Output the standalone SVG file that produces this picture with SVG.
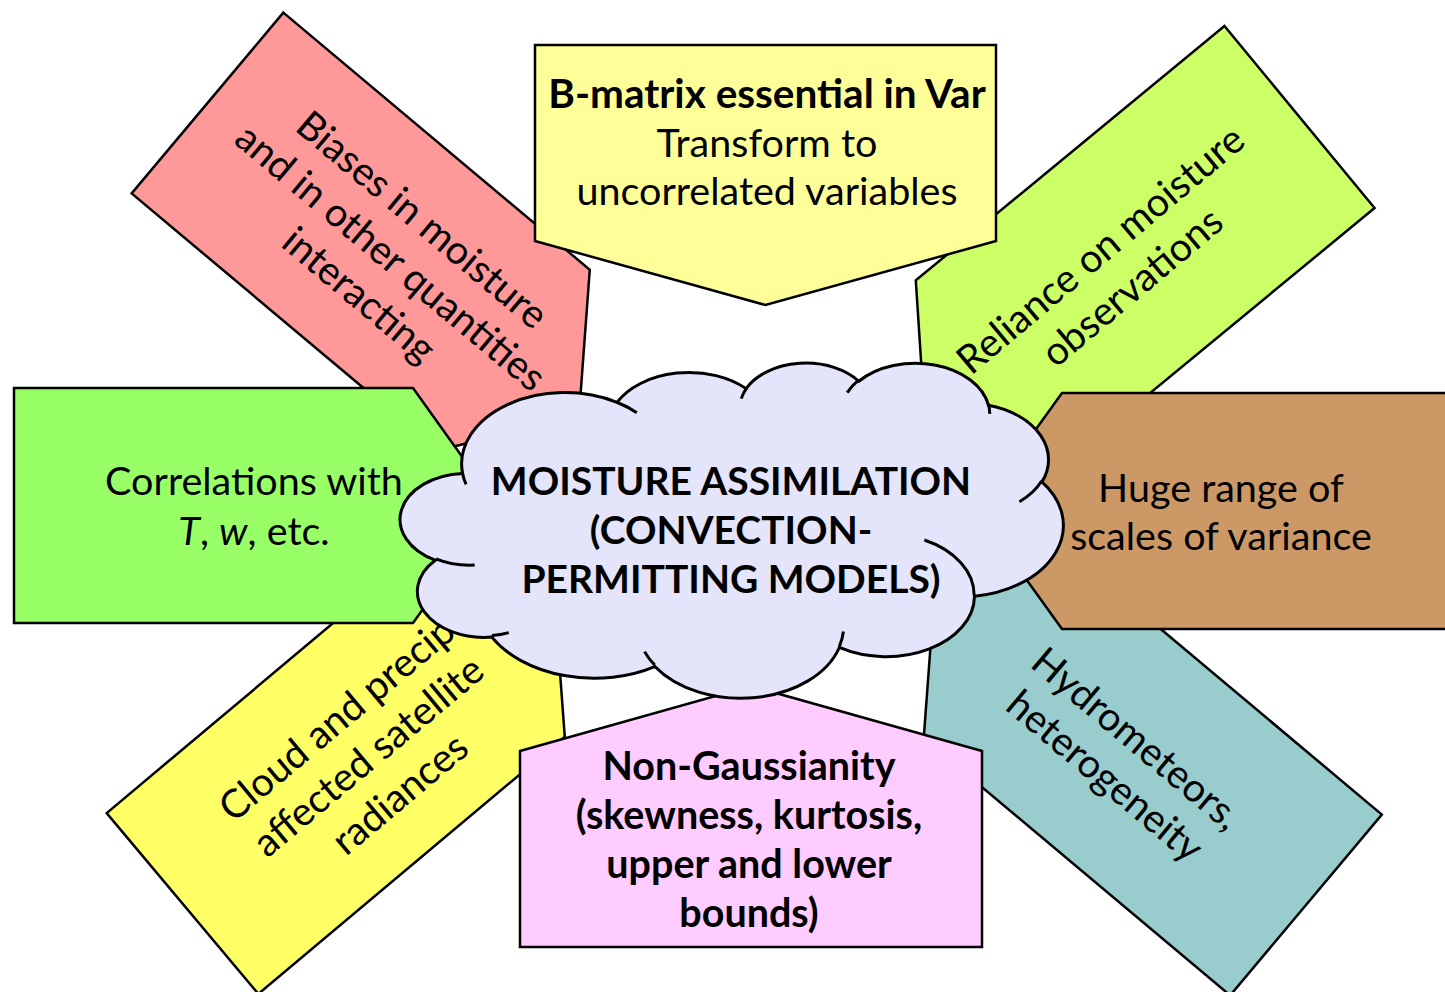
<svg xmlns="http://www.w3.org/2000/svg" width="1445" height="992" viewBox="0 0 1445 992">
<style>
.sh{stroke:#000;stroke-width:2.5;stroke-linejoin:miter}
.t{font-family:Lato,"Open Sans","Liberation Sans",sans-serif;font-size:39.5px;fill:#000;text-anchor:middle}
.b{font-weight:bold}
.ct{font-family:Lato,"Open Sans","Liberation Sans",sans-serif;font-size:39px;font-weight:bold;fill:#000;text-anchor:middle}
.cl{stroke:#000;stroke-width:3;fill:#e4e4fb}
.ci{stroke:#000;stroke-width:3;fill:none}
</style>
<defs>
<polygon id="pent" points="0,-118 400,-118 485,0 400,118 0,118"/>
</defs>
<rect width="1445" height="992" fill="#fff"/>

<g id="biases">
<use href="#pent" class="sh" fill="#ff9999" transform="translate(207.5,103) rotate(40)"/>
<text class="t" transform="translate(391,257) rotate(40)"><tspan x="0" y="-35">Biases in moisture</tspan><tspan x="0" y="14">and in other quantities</tspan><tspan x="0" y="63">interacting</tspan></text>
</g>

<g id="reliance">
<use href="#pent" class="sh" fill="#ccff66" transform="translate(1299.5,117) rotate(140.5)"/>
<text class="t" transform="translate(1116,268) rotate(-40)"><tspan x="0" y="-10.5">Reliance on moisture</tspan><tspan x="0" y="38.5">observations</tspan></text>
</g>

<g id="hydrometeors">
<use href="#pent" class="sh" fill="#99cccc" transform="translate(1306,905) rotate(220)"/>
<text class="t" transform="translate(1121,757) rotate(40)"><tspan x="0" y="-10.5">Hydrometeors,</tspan><tspan x="0" y="38.5">heterogeneity</tspan></text>
</g>

<g id="cloudprecip">
<use href="#pent" class="sh" fill="#ffff66" transform="translate(182.5,903.5) rotate(-40)"/>
<text class="t" transform="translate(368,756) rotate(-40)"><tspan x="0" y="-35">Cloud and precip</tspan><tspan x="0" y="14">affected satellite</tspan><tspan x="0" y="63">radiances</tspan></text>
</g>

<g id="bmatrix">
<polygon class="sh" fill="#ffff99" points="535,45 996,45 996,241 765.5,305 535,241"/>
<text class="t"><tspan class="b" x="767" y="108" font-size="40.5">B-matrix essential in Var</tspan><tspan x="767" y="157">Transform to</tspan><tspan x="767" y="205">uncorrelated variables</tspan></text>
</g>

<g id="correlations">
<polygon class="sh" fill="#99ff66" points="14,388 413,388 497,505.5 413,623 14,623"/>
<text class="t"><tspan x="254" y="495">Correlations with</tspan><tspan x="254" y="545"><tspan font-style="italic">T</tspan>, <tspan font-style="italic">w</tspan>, etc.</tspan></text>
</g>

<g id="scales">
<polygon class="sh" fill="#cc9966" points="1462,393 1062,393 977,511 1062,629 1462,629"/>
<text class="t"><tspan x="1221" y="502">Huge range of</tspan><tspan x="1221" y="550">scales of variance</tspan></text>
</g>

<g id="nongaussian">
<polygon class="sh" fill="#ffccff" points="520,947 982,947 982,751 751,686 520,751"/>
<text class="t b"><tspan x="749" y="780">Non-Gaussianity</tspan><tspan x="749" y="829">(skewness, kurtosis,</tspan><tspan x="749" y="878">upper and lower</tspan><tspan x="749" y="927">bounds)</tspan></text>
</g>

<g id="moisture">
<g transform="translate(403,362) scale(0.015278,0.0077546)">
<path class="cl" vector-effect="non-scaling-stroke" d="M3900 14370 A6753 9190 0 0 1 14005 5202 A5333 7267 0 0 1 22458 3434 A4365 5945 0 0 1 29836 2482 A4857 6595 0 0 1 38321 5577 A5333 7273 0 0 1 41821 15461 A6775 9220 0 0 1 37407 30205 A5785 7867 0 0 1 28560 36815 A6752 9215 0 0 1 16484 39269 A7720 10543 0 0 1 5808 35476 A4360 5918 0 0 1 2115 25557 A4345 5945 0 0 1 3900 14370 Z"/>
<path class="ci" vector-effect="non-scaling-stroke" d="M4693 26177 A4345 5945 0 0 1 2160 25380 M6928 34899 A4360 5918 0 0 1 5819 35281 M16478 39090 A6752 9215 0 0 1 15810 37348 M28827 34751 A6752 9215 0 0 1 28561 36659 M34129 22954 A5785 7867 0 0 1 37380 30090 M41798 15354 A5333 7273 0 0 1 40350 18030 M38324 5426 A4857 6595 0 0 1 38400 6690 M29078 3952 A4857 6595 0 0 1 29820 2339 M22141 4720 A4365 5945 0 0 1 22500 3331 M14000 5192 A6753 9190 0 0 1 15303 6545 M4127 15789 A6753 9190 0 0 1 3900 14371"/>
</g>
<text class="ct"><tspan x="731" y="495">MOISTURE ASSIMILATION</tspan><tspan x="731" y="544">(CONVECTION-</tspan><tspan x="731" y="593">PERMITTING MODELS)</tspan></text>
</g>
</svg>
